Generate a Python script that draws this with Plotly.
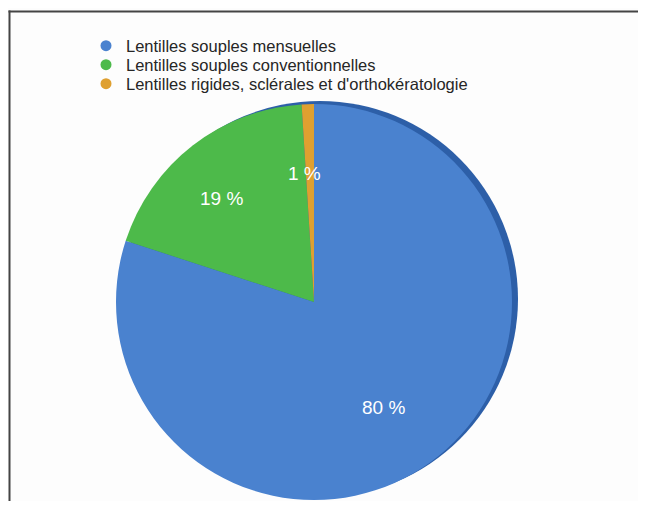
import plotly.graph_objects as go

# ---- data ----
categories = [
    "Lentilles souples mensuelles",
    "Lentilles souples conventionnelles",
    "Lentilles rigides, sclérales et d'orthokératologie",
]
values = [80, 19, 1]
colors = ["#4a82cf", "#4dba4a", "#dfa030"]
rim_color = "#2d5fa8"

# the page body keeps its default 8px margin; size the figure so it never overflows
OFF = 8
W, H = 646 - 2 * OFF, 509 - 2 * OFF


def px_x(x):
    return (x - OFF) / W


def px_y(y):
    return 1 - (y - OFF) / H


# pie geometry (page pixels)
cx, cy, r = 314, 302, 198
sx, sy = 320, 299  # 3D rim offset

fig = go.Figure()

# dark rim (gives the slight 3D edge)
fig.add_trace(go.Pie(
    values=[sum(values)], labels=["rim"],
    marker=dict(colors=[rim_color], line=dict(width=0)),
    textinfo="none", hoverinfo="skip", showlegend=False, sort=False,
    domain=dict(x=[px_x(sx - r), px_x(sx + r)], y=[px_y(sy + r), px_y(sy - r)]),
))

fig.add_trace(go.Pie(
    values=values, labels=categories,
    marker=dict(colors=colors, line=dict(width=0)),
    textinfo="none", sort=False, direction="clockwise", rotation=0,
    showlegend=False,
    domain=dict(x=[px_x(cx - r), px_x(cx + r)], y=[px_y(cy + r), px_y(cy - r)]),
))

# legend entries with round bullets, one legend per row
legend_names = ["legend", "legend2", "legend3"]
for name, col, lg in zip(categories, colors, legend_names):
    fig.add_trace(go.Scatter(
        x=[None], y=[None], mode="markers", name=name, legend=lg,
        marker=dict(symbol="circle", size=11, color=col),
    ))

# percentage labels
label_pos = [(383, 420), (221, 199), (304, 174)]
for v, (lx, ly) in zip(values, label_pos):
    fig.add_annotation(
        x=px_x(lx), y=px_y(ly), xref="paper", yref="paper",
        text=f"{v} %", showarrow=False,
        font=dict(family="Liberation Sans, Arial, sans-serif", size=19, color="white"),
    )

legend_font = dict(family="Liberation Sans, Arial, sans-serif", size=16.5, color="#262626")
row_y = [46, 65, 84]
legend_layouts = {}
for lg, ry in zip(legend_names, row_y):
    legend_layouts[lg] = dict(
        x=px_x(86), y=px_y(ry), xanchor="left", yanchor="middle",
        bgcolor="rgba(0,0,0,0)", font=legend_font,
    )

frame_line = dict(color="#444444", width=2)
fig.update_layout(
    width=W, height=H,
    margin=dict(l=0, r=0, t=0, b=0),
    paper_bgcolor="#fdfdfd", plot_bgcolor="rgba(0,0,0,0)",
    xaxis=dict(visible=False), yaxis=dict(visible=False),
    showlegend=True,
    shapes=[
        dict(type="line", xref="paper", yref="paper",
             x0=px_x(8.5), x1=1, y0=px_y(11.5), y1=px_y(11.5), line=frame_line),
        dict(type="line", xref="paper", yref="paper",
             x0=px_x(9.5), x1=px_x(9.5), y0=px_y(10.5), y1=0, line=frame_line),
    ],
    **legend_layouts,
)

fig.write_html("out.html", config={"displayModeBar": False})
